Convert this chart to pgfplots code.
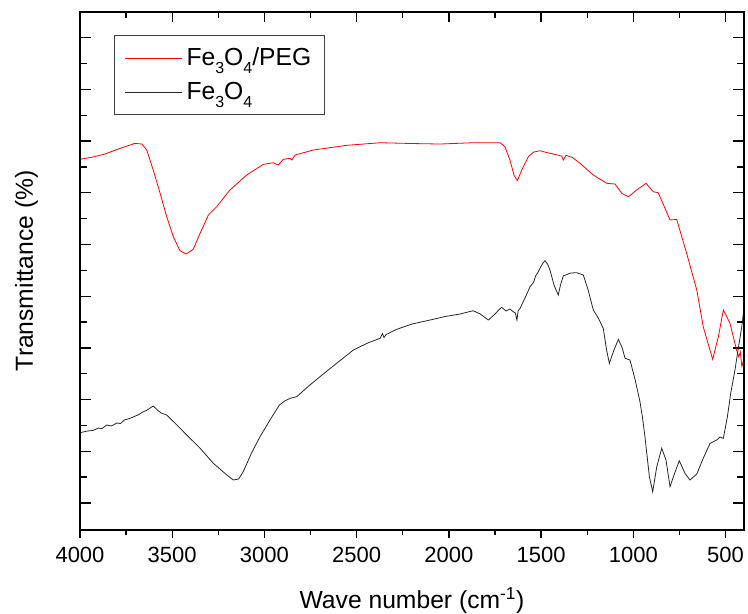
\documentclass[border=0pt]{standalone}
\usepackage{fontspec}
\setmainfont{Liberation Sans}
\usepackage{pgfplots}
\pgfplotsset{compat=1.18}
\newcommand{\sub}[1]{\lower0.55ex\hbox{\fontsize{12}{12}\selectfont #1}}
\begin{document}
\begin{tikzpicture}
\useasboundingbox (-60pt,-62.25pt) rectangle (501pt,397.5pt);
\pgfplotsset{
  common/.style={
    scale only axis, width=498pt, height=388.7pt,
    xmin=400, xmax=4000, x dir=reverse,
    ymin=11.7, ymax=530, y dir=reverse,
    axis line style={line width=1.2pt},
    xtick={500,1000,...,4000},
    minor xtick={750,1250,...,3750},
  }
}
\begin{axis}[common,
  tick align=inside,
  xtick pos=right, xticklabel pos=left,
  ytick pos=both,
  major tick length=8pt, minor tick length=5pt,
  every tick/.style={line width=1pt, black},
  ytick={37.7,89.4,141.1,192.8,244.5,296.2,347.9,399.6,451.3,503},
  minor ytick={63.55,115.25,166.95,218.65,270.35,322.05,373.75,425.45,477.15},
  yticklabels={},
  /pgf/number format/assume math mode=true,
  /pgf/number format/set thousands separator={},
  xticklabel style={font=\fontsize{16.5}{16.5}\selectfont, yshift=-9pt},
  xlabel={Wave number (cm\textsuperscript{-1})},
  ylabel={Transmittance (\%)},
  xlabel style={font=\fontsize{18.5}{20}\selectfont, at={(axis description cs:0.5,-0.151)}, anchor=base},
  ylabel style={font=\fontsize{18.5}{20}\selectfont, at={(axis description cs:-0.071,0.5)}, anchor=base, rotate=0},
  legend style={at={(axis description cs:0.0512,0.955)}, anchor=north west,
    draw=black!75, line width=0.6pt, font=\fontsize{18.5}{20}\selectfont,
    inner xsep=7.5pt, inner ysep=7.5pt, row sep=7pt},
  legend cell align=left,
  legend image code/.code={\draw[#1] (0pt,0pt) -- (43pt,0pt); \path (44pt,0pt);},
]
\addlegendimage{red, line width=0.6pt}
\addlegendentry{Fe\sub{3}O\sub{4}/PEG}
\addlegendimage{black!85, line width=0.6pt}
\addlegendentry{Fe\sub{3}O\sub{4}}
\addplot[red, line width=0.6pt, forget plot] coordinates {
(4000,159.3) (3930,157) (3865,154) (3800,149.5) (3729,145) (3702,143.3) (3665,144)
(3638,150) (3603,170) (3566,193) (3530,216.7) (3494,236.7) (3458,250.7) (3425,254)
(3386,249.3) (3349,233.3) (3304,215) (3259,206.7) (3187,190) (3096,175) (3006,164.3)
(2952,162.7) (2925,165) (2898,159.3) (2861,158.3) (2851,160) (2834,155) (2735,150)
(2554,145.3) (2373,142.7) (2200,143.5) (2048,144) (1868,142.7) (1723,142.7) (1696,146.7)
(1669,160) (1647,175) (1629,180.7) (1605,170) (1569,156.7) (1540,152) (1506,150.7)
(1470,152.5) (1434,154) (1388,156) (1380,160) (1365,155.3) (1330,157.5) (1289,163.3)
(1217,175) (1144,183.3) (1099,184) (1063,193.3) (1027,196.7) (982,190) (931,183.3)
(892,191.7) (865,192.7) (801,220) (765,219.3) (711,253.3) (656,290) (621,326.7)
(570,359.3) (539,336.7) (512,310) (476,323.3) (440,350) (428,357) (420,352)
(412,366) (405,362) (400,373)
};
\addplot[black!85, line width=0.6pt, forget plot] coordinates {
(4000,432.7) (3960,431) (3930,430.5) (3900,428) (3880,428.5) (3855,425) (3830,426)
(3800,423) (3780,423.5) (3760,420) (3729,418.3) (3700,416) (3680,414.5) (3660,412)
(3640,410.5) (3620,408) (3603,406) (3580,410) (3560,413) (3530,415) (3480,424)
(3421,435) (3350,448) (3277,463.3) (3210,474) (3169,480) (3140,479) (3115,471.7)
(3070,453) (3024,436.7) (2970,420) (2919,405) (2890,401) (2861,398.3) (2825,396.7)
(2760,386) (2699,376.7) (2600,362) (2518,350) (2440,343) (2373,338.3) (2360,333.5)
(2352,337.5) (2340,334.5) (2283,329.3) (2200,324) (2102,320) (2020,316.5) (1940,314)
(1868,310.7) (1830,314) (1786,320) (1750,314) (1730,310) (1714,307.3) (1690,311)
(1670,309) (1651,311.7) (1640,313) (1631,320) (1625,311) (1614,308.3) (1590,299)
(1575,293) (1560,286.7) (1540,282) (1530,276) (1515,271.7) (1500,266) (1490,263)
(1479,260.7) (1465,264) (1452,270) (1430,285) (1407,295) (1395,285) (1380,276)
(1340,273) (1307,272.7) (1271,275) (1245,290) (1217,310) (1190,318) (1163,328.3)
(1145,350) (1130,363.3) (1105,350) (1081,339.3) (1060,348) (1045,358.3) (1018,360)
(990,380) (964,401.7) (950,418) (937,436.7) (913,476.7) (895,491.7) (873,466.7)
(846,448.3) (823,460) (801,486.7) (783,476.7) (751,460.7) (720,473.3) (693,480)
(656,474) (621,458.3) (584,443.3) (548,440) (530,437) (512,438.3) (490,416.7)
(472,393.3) (449,370) (431,348.3) (412,326.7) (400,308.3)
};
\end{axis}
\begin{axis}[common,
  tick align=outside,
  xtick pos=left,
  major tick length=5.8pt, minor tick length=4pt,
  every tick/.style={line width=1pt, black},
  xticklabels={}, ytick=\empty,
]
\end{axis}
\end{tikzpicture}
\end{document}
